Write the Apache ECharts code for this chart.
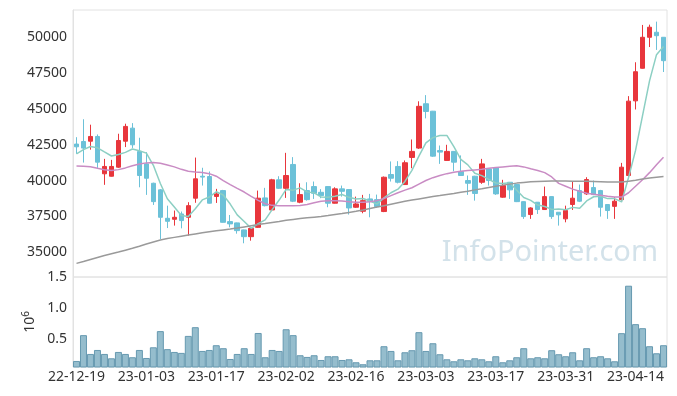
<!DOCTYPE html>
<html><head><meta charset="utf-8">
<script src="https://cdn.jsdelivr.net/npm/echarts@6/dist/echarts.min.js"></script>
<style>html,body{margin:0;padding:0;background:#fff}#c{width:677px;height:396px}</style>
</head><body><div id="c"></div>
<script>
const dates = ['22-12-19','22-12-20','22-12-21','22-12-22','22-12-23','22-12-26','22-12-27','22-12-28','22-12-29','23-01-02',
'23-01-03','23-01-04','23-01-05','23-01-06','23-01-09','23-01-10','23-01-11','23-01-12','23-01-13','23-01-16',
'23-01-17','23-01-18','23-01-19','23-01-20','23-01-25','23-01-26','23-01-27','23-01-30','23-01-31','23-02-01',
'23-02-02','23-02-03','23-02-06','23-02-07','23-02-08','23-02-09','23-02-10','23-02-13','23-02-14','23-02-15',
'23-02-16','23-02-17','23-02-20','23-02-21','23-02-22','23-02-23','23-02-24','23-02-27','23-02-28','23-03-02',
'23-03-03','23-03-06','23-03-07','23-03-08','23-03-09','23-03-10','23-03-13','23-03-14','23-03-15','23-03-16',
'23-03-17','23-03-20','23-03-21','23-03-22','23-03-23','23-03-24','23-03-27','23-03-28','23-03-29','23-03-30',
'23-03-31','23-04-03','23-04-04','23-04-05','23-04-06','23-04-07','23-04-10','23-04-11','23-04-12','23-04-13',
'23-04-14','23-04-17','23-04-18','23-04-19','23-04-20'];

const openP = [42540,42720,42740,43070,40470,40300,40930,42740,43650,42020,
41160,39810,39350,37370,37300,37670,37440,38770,40300,40280,
38890,39300,37140,37050,36560,36090,36740,38790,37950,40050,
39460,41120,38490,39300,39580,39180,39580,38420,39420,39370,
38140,37860,38720,38670,37840,40420,40980,39720,41610,42260,
45350,44830,42090,41400,42030,40630,40000,40300,39880,40810,
40880,38840,39880,39720,38530,37630,38490,37980,38880,37790,
37330,38330,39300,39070,39510,39300,38330,38200,38670,40350,
45550,47820,49980,50330,49980];
const closeP = [42350,42260,43070,41280,40980,40980,42790,43770,42490,40350,
40160,38530,37440,37160,37440,37210,38250,40120,40240,38420,
39070,37090,36980,36510,36090,36670,38770,38250,40050,39460,
40350,38560,39020,38670,39110,38950,38420,39420,39250,38090,
38370,38600,38560,38180,40230,40160,39880,41240,42030,45170,
44810,41700,41980,42030,41280,40350,39810,39100,41160,40000,
39070,39650,39350,38530,37490,38090,37980,38880,37490,37610,
37910,38770,38560,40070,39020,38140,37910,38560,40930,45530,
47580,49980,50680,50090,48350];
const lowP = [41860,41250,42150,40880,39700,40280,40880,42330,42270,39530,
39000,38300,35920,36690,36860,36670,36160,38450,39650,38400,
38440,37070,36740,36300,35630,35810,36700,38200,37900,39420,
38790,38500,38420,38600,38720,38770,38140,38400,38880,37630,
38100,37720,37440,38100,37800,39930,39800,39700,40860,42200,
44330,41650,41160,41380,40650,40320,39000,38600,39770,39650,
39000,38800,38720,38500,37330,37330,37670,37950,37330,36860,
37090,37950,38500,39000,38980,37490,37330,37330,38600,40280,
44950,47800,49300,49100,47560];
const highP = [43020,44270,43890,43210,41510,41440,43260,43960,44000,42980,
41980,39850,39400,38250,37910,37840,38490,41600,40890,40630,
39420,39350,37600,37070,36580,36700,39300,39490,40120,40300,
41930,41630,39810,39880,39930,39400,39600,39530,39650,39400,
38880,39000,39070,39020,40280,41330,41350,41400,42860,45520,
45950,44850,42440,42490,42050,41750,40350,40330,41510,40850,
40900,40050,39900,39750,38550,38140,38500,39580,38900,37800,
38250,39930,39720,40230,40000,39350,38350,38840,41230,45880,
48240,50840,50860,51070,50000];

const ma5 = [41860,42150,42370,42280,41990,41710,41820,41960,42200,42080,
41910,41060,39790,38730,38150,37560,37500,38040,38650,38850,
39220,38990,38360,37610,37150,36670,37000,37260,37970,38640,
39380,39330,39490,39210,39140,38860,38830,38910,39030,38830,
38710,38750,38570,38360,38790,39150,39400,39940,40710,41700,
42630,42990,43140,43140,42360,41470,41090,40510,40340,40080,
39830,39800,39850,39320,38820,38620,38290,38190,37990,38010,
37970,38130,38070,38580,38870,38910,38740,38740,38510,40210,
42100,44520,46940,48770,49340];
const ma20 = [41020,41000,40960,40850,40750,40700,40760,40880,41030,41150,
41230,41250,41200,41080,40950,40780,40650,40600,40560,40480,
40300,40000,39720,39450,39200,38900,38620,38380,38270,38250,
38250,38250,38260,38330,38450,38560,38600,38600,38580,38520,
38490,38480,38520,38600,38750,38950,39150,39330,39500,39750,
40000,40200,40350,40480,40580,40650,40700,40740,40780,40850,
40900,40950,41000,41030,40950,40820,40700,40550,40250,39800,
39600,39400,39250,39120,39050,38980,38900,38850,38850,39150,
39600,40050,40550,41100,41630];
const ma60 = [34230,34360,34500,34640,34780,34900,35020,35150,35280,35420,
35580,35720,35860,35960,36040,36120,36200,36280,36360,36430,
36500,36560,36620,36690,36770,36850,36930,37000,37080,37150,
37230,37290,37350,37400,37450,37500,37560,37630,37700,37780,
37860,37950,38050,38150,38250,38350,38450,38550,38640,38720,
38800,38880,38950,39030,39100,39180,39260,39350,39430,39520,
39600,39680,39750,39820,39870,39910,39940,39950,39960,39960,
39960,39950,39950,39950,39940,39920,39900,39890,39900,39950,
40020,40100,40170,40230,40280];

const volume = [0.15,0.565,0.263,0.327,0.263,0.193,0.295,0.263,0.21,0.327,
0.198,0.37,0.63,0.34,0.295,0.28,0.553,0.693,0.311,0.327,
0.403,0.355,0.182,0.263,0.355,0.263,0.60,0.21,0.327,0.311,
0.66,0.565,0.242,0.215,0.242,0.166,0.226,0.226,0.166,0.177,
0.129,0.097,0.161,0.161,0.387,0.311,0.161,0.29,0.323,0.613,
0.311,0.435,0.258,0.177,0.145,0.177,0.161,0.193,0.177,0.145,
0.226,0.129,0.161,0.21,0.355,0.193,0.21,0.193,0.323,0.258,
0.226,0.29,0.161,0.355,0.21,0.226,0.193,0.145,0.597,1.36,
0.742,0.677,0.387,0.274,0.403];

const priceTicks = [35000,37500,40000,42500,45000,47500,50000];
const volTicks = [0.5,1.0,1.5];

const candles = dates.map((d,i)=>[openP[i],closeP[i],lowP[i],highP[i]]);
const FONT = 'Noto Sans';
const chart = echarts.init(document.getElementById('c'), null, {renderer:'canvas'});
const gridLine = '#e2e2e2';
chart.setOption({
  animation:false,
  backgroundColor:'#fff',
  textStyle:{fontFamily:FONT},
  grid:[
    {left:73,right:10,top:10,height:267,show:true,borderColor:gridLine,borderWidth:1},
    {left:73,right:10,top:277,height:90,show:true,borderColor:gridLine,borderWidth:1}
  ],
  xAxis:[
    {type:'category',gridIndex:0,data:dates,boundaryGap:true,axisLabel:{show:false},axisTick:{show:false},axisLine:{show:false},splitLine:{show:false}},
    {type:'category',gridIndex:1,data:dates,boundaryGap:true,
     axisLabel:{interval:9,color:'#333',fontSize:14,fontFamily:FONT,margin:3},
     axisTick:{show:false},axisLine:{show:false},splitLine:{show:false}}
  ],
  yAxis:[
    {type:'value',gridIndex:0,min:33280,max:51880,
     axisLabel:{customValues:priceTicks,color:'#333',fontSize:14,fontFamily:FONT,margin:6,formatter:v=>String(v)},
     axisTick:{show:false},axisLine:{show:true,lineStyle:{color:gridLine}},splitLine:{show:false}},
    {type:'value',gridIndex:1,min:0.053,max:1.5,
     axisLabel:{customValues:volTicks,color:'#333',fontSize:14,fontFamily:FONT,margin:6,formatter:v=>v.toFixed(1)},
     axisTick:{show:false},axisLine:{show:true,lineStyle:{color:gridLine}},splitLine:{show:false},
     name:'10{s|6}',nameLocation:'middle',nameRotate:90,nameGap:33,nameMoveOverlap:false,
     nameTextStyle:{color:'#333',fontSize:14,fontFamily:FONT,rich:{s:{fontSize:10,fontFamily:FONT,color:'#333',padding:[0,0,9,0]}}}}
  ],
  graphic:[{type:'text',right:19,top:238,z:-1,silent:true,
    style:{text:'InfoPointer.com',font:'29px "Noto Sans"',fill:'#d3e2ea'}}],
  series:[
    {type:'candlestick',xAxisIndex:0,yAxisIndex:0,data:candles,barWidth:5,
     itemStyle:{color:'#e8363c',color0:'#6cc1d8',borderColor:'#e8363c',borderColor0:'#6cc1d8',borderWidth:1}},
    {type:'line',xAxisIndex:0,yAxisIndex:0,data:ma5,symbol:'none',lineStyle:{color:'#8ccfc3',width:1.5},itemStyle:{color:'#8ccfc3'}},
    {type:'line',xAxisIndex:0,yAxisIndex:0,data:ma20,symbol:'none',lineStyle:{color:'#c98cc4',width:1.5},itemStyle:{color:'#c98cc4'}},
    {type:'line',xAxisIndex:0,yAxisIndex:0,data:ma60,symbol:'none',lineStyle:{color:'#9a9a9a',width:1.5},itemStyle:{color:'#9a9a9a'}},
    {type:'bar',xAxisIndex:1,yAxisIndex:1,data:volume,barCategoryGap:'0%',
     itemStyle:{color:'#95bdcd',borderColor:'#6699b0',borderWidth:1}}
  ]
});
</script></body></html>
